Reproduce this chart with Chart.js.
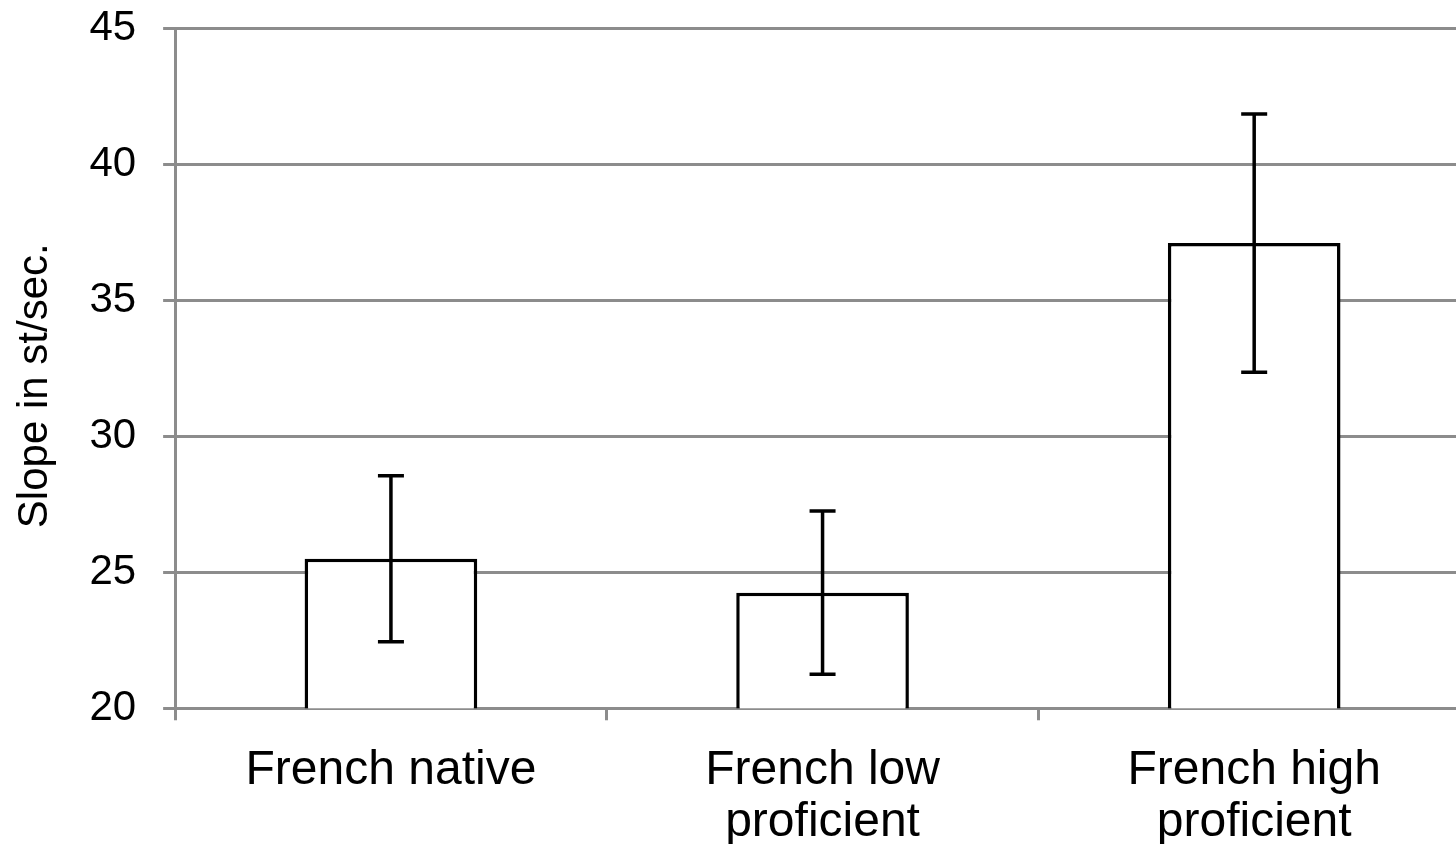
<!DOCTYPE html>
<html>
<head>
<meta charset="utf-8">
<script src="https://cdn.jsdelivr.net/npm/chart.js@4"></script>
<style>
  html, body { margin: 0; padding: 0; background: #fff; overflow: hidden; }
  #wrap { width: 1500px; height: 897px; margin-top: -24px; }
</style>
</head>
<body>
<div id="wrap"><canvas id="barChart"></canvas></div>
<script>
const categories = [['French native'], ['French low', 'proficient'], ['French high', 'proficient']];
const slopes = [25.5, 24.25, 37.1];
const errors = [3.05, 3.0, 4.75];
const yTicks = [20, 25, 30, 35, 40, 45];

const gridGray = '#8c8c8c';
const font = 'Liberation Sans, Arial, sans-serif';

// draws the +/- error whiskers on top of each bar
const errorBars = {
  id: 'errorBars',
  afterDatasetsDraw(chart) {
    const { ctx, scales: { x, y } } = chart;
    ctx.save();
    ctx.strokeStyle = '#000';
    ctx.lineWidth = 3.5;
    slopes.forEach((v, i) => {
      const cx = x.getPixelForValue(i);
      const top = y.getPixelForValue(v + errors[i]);
      const bot = y.getPixelForValue(v - errors[i]);
      ctx.beginPath();
      ctx.moveTo(cx, top);
      ctx.lineTo(cx, bot);
      ctx.moveTo(cx - 13, top);
      ctx.lineTo(cx + 13, top);
      ctx.moveTo(cx - 13, bot);
      ctx.lineTo(cx + 13, bot);
      ctx.stroke();
    });
    ctx.restore();
  },
};

const ctx = document.getElementById('barChart');
const barChart = new Chart(ctx, {
  type: 'bar',
  data: {
    labels: categories,
    datasets: [{
      data: slopes,
      backgroundColor: '#fff',
      borderColor: '#000',
      borderWidth: 3.5,
      barPercentage: 0.4,
      categoryPercentage: 1,
    }],
  },
  options: {
    responsive: true,
    maintainAspectRatio: false,
    animation: false,
    layout: { padding: { top: 5, right: 30, left: 10, bottom: 0 } },
    plugins: {
      legend: { display: false },
      tooltip: { enabled: false },
    },
    scales: {
      x: {
        grid: {
          offset: true,
          drawOnChartArea: false,
          color: gridGray,
          lineWidth: 3,
          tickLength: 12,
        },
        border: { color: gridGray, width: 3 },
        ticks: {
          color: '#000',
          font: { family: font, size: 48, lineHeight: 1.07 },
          padding: 25,
          maxRotation: 0,
        },
      },
      y: {
        min: 20,
        max: 45,
        afterBuildTicks: (axis) => {
          axis.ticks = yTicks.map((v) => ({ value: v }));
        },
        grid: { color: gridGray, lineWidth: 3, tickLength: 12 },
        border: { color: gridGray, width: 3 },
        ticks: {
          color: '#000',
          font: { family: font, size: 42 },
          padding: 27,
        },
        title: {
          display: true,
          // trailing spaces nudge the rotated title down a bit
          text: 'Slope in st/sec.   ',
          color: '#000',
          font: { family: font, size: 42 },
          padding: { top: 0, bottom: 2 },
        },
      },
    },
  },
  plugins: [errorBars],
});
</script>
</body>
</html>
